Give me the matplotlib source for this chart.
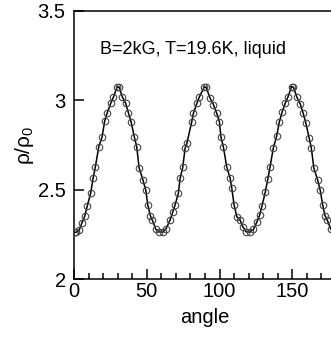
import matplotlib
matplotlib.use('Agg')
import matplotlib.pyplot as plt
from matplotlib.ticker import MultipleLocator

plt.rcParams['font.family'] = ['Liberation Sans', 'DejaVu Sans']
plt.rcParams['mathtext.default'] = 'regular'

# angle (deg) and rho/rho0
angle = [0.6, 1.4, 3.6, 5.5, 7.4, 9.1, 11.5, 13.1, 14.6, 17.0, 19.3, 21.1, 22.9, 25.2, 27.0, 29.6,
         30.9, 33.2, 35.5, 37.3, 39.2, 41.5, 43.1, 44.7, 47.4, 49.3, 50.7, 52.5, 53.8, 56.2, 58.4,
         61.0, 63.3, 66.0, 67.9, 69.4, 71.7, 72.9, 74.7, 76.3, 77.5, 80.9, 82.0, 84.4, 86.1, 89.5,
         90.6, 93.5, 95.8, 98.1, 99.9, 100.9, 102.6, 105.0, 107.3, 108.4, 110.0, 111.9, 114.1, 116.0, 118.3,
         120.8, 123.3, 125.6, 127.5, 129.2, 131.4, 133.2, 134.7, 137.0, 139.2, 141.1, 143.0, 145.2, 147.1, 149.5,
         150.8, 153.2, 155.4, 157.4, 159.2, 161.5, 163.0, 164.8, 167.3, 169.2, 170.8, 172.4, 173.9, 176.3, 178.4]
rho = [2.262, 2.261, 2.274, 2.315, 2.352, 2.408, 2.482, 2.563, 2.624, 2.739, 2.795, 2.884, 2.931, 2.982, 3.015, 3.074,
       3.074, 3.018, 2.982, 2.931, 2.879, 2.792, 2.739, 2.622, 2.553, 2.497, 2.413, 2.352, 2.330, 2.278, 2.264,
       2.262, 2.282, 2.330, 2.376, 2.413, 2.479, 2.563, 2.624, 2.730, 2.758, 2.879, 2.926, 2.982, 3.018, 3.074,
       3.074, 3.012, 2.975, 2.926, 2.879, 2.795, 2.739, 2.624, 2.563, 2.507, 2.413, 2.348, 2.330, 2.292, 2.264,
       2.262, 2.278, 2.318, 2.356, 2.410, 2.486, 2.560, 2.628, 2.735, 2.798, 2.880, 2.934, 2.985, 3.020, 3.076,
       3.072, 3.015, 2.980, 2.928, 2.875, 2.790, 2.735, 2.620, 2.556, 2.495, 2.416, 2.355, 2.332, 2.280, 2.266]

fig = plt.figure(figsize=(3.31, 3.37), dpi=100)
ax = fig.add_axes([0.2236, 0.1721, 0.7915, 0.796])

ax.plot(angle, rho, '-', color='black', lw=1.1, zorder=2)
ax.plot(angle, rho, 'o', mfc='none', mec='#444444', ms=4.7, mew=0.8, zorder=3)

ax.set_xlim(0, 180)
ax.set_ylim(2, 3.5)
ax.xaxis.set_major_locator(MultipleLocator(50))
ax.xaxis.set_minor_locator(MultipleLocator(10))
ax.set_yticks([2, 2.5, 3, 3.5], ['2', '2.5', '3', '3.5'])

ax.tick_params(which='both', direction='in', top=False, right=False, width=1.1, labelsize=14.5)
ax.tick_params(which='major', length=7)
ax.tick_params(which='minor', length=4)
ax.tick_params(axis='x', pad=2)
ax.tick_params(axis='y', pad=6)
for side in ['left', 'bottom', 'top']:
    ax.spines[side].set_linewidth(1.1)

ax.set_xlabel('angle', fontsize=14.5, labelpad=5)
ax.set_ylabel(r'ρ/ρ$_0$', fontsize=15, labelpad=1)
ax.text(18, 3.285, 'B=2kG, T=19.6K, liquid', fontsize=13, va='center')

fig.savefig('out.png', dpi=100)
